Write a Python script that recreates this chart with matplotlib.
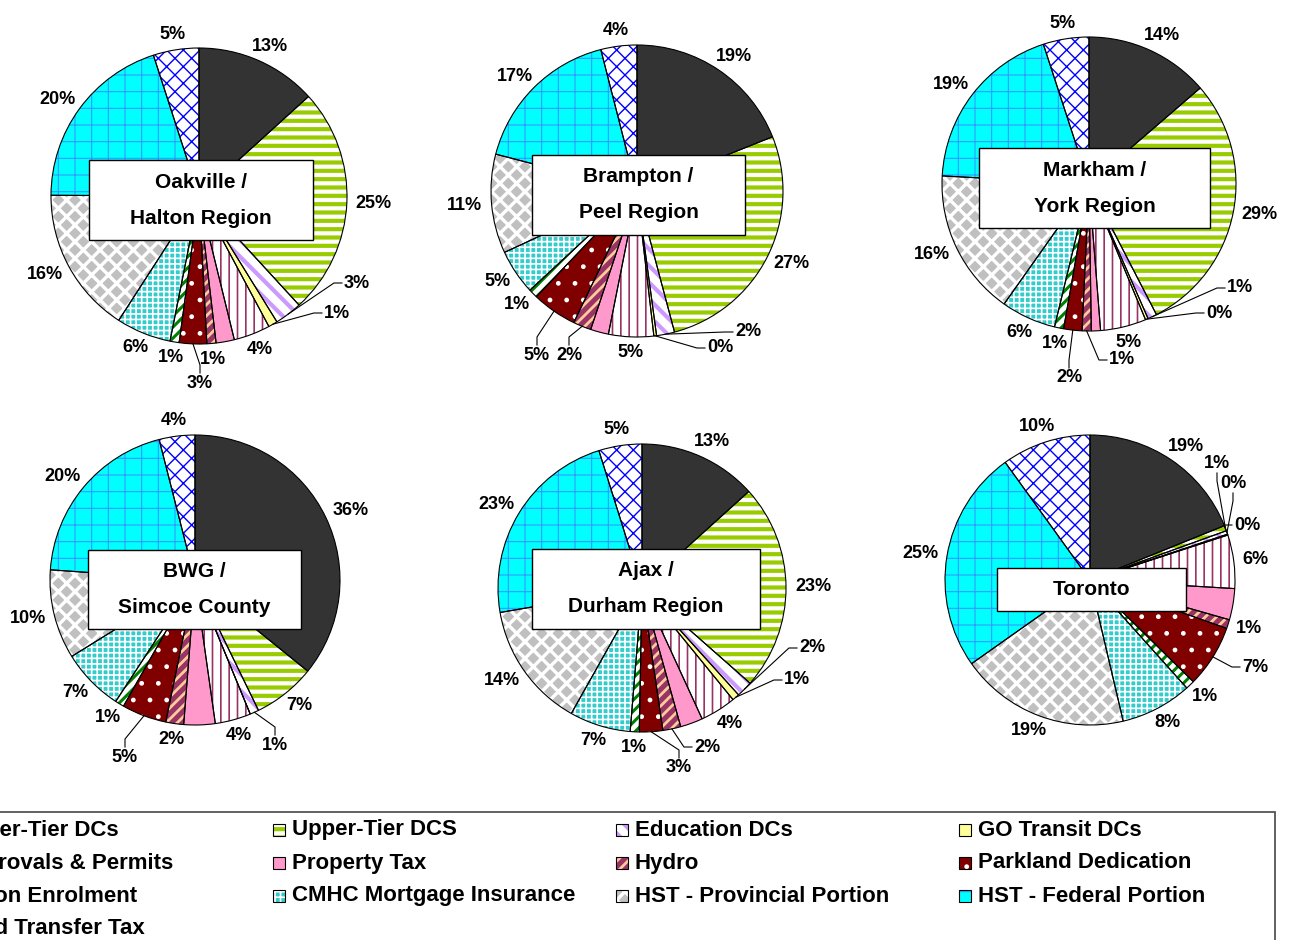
import numpy as np
import matplotlib.pyplot as plt
from matplotlib.patches import Rectangle

plt.rcParams['font.family'] = ['Liberation Sans', 'DejaVu Sans']
plt.rcParams['font.weight'] = 'bold'

# categories, clockwise from 12 o'clock
categories = ['Lower-Tier DCs', 'Upper-Tier DCS', 'Education DCs', 'GO Transit DCs',
              'Approvals & Permits', 'Property Tax', 'Hydro', 'Parkland Dedication',
              'Tarion Enrolment', 'CMHC Mortgage Insurance', 'HST - Provincial Portion',
              'HST - Federal Portion', 'Land Transfer Tax']

titles = ['Oakville /\nHalton Region', 'Brampton /\nPeel Region', 'Markham /\nYork Region',
          'BWG /\nSimcoe County', 'Ajax /\nDurham Region', 'Toronto']

# share of each charge in %, same order as categories
oakville = [13.3, 25.0, 3.0, 1.0, 4.0, 2.0, 1.0, 3.0, 1.0, 6.0, 16.0, 20.0, 5.0]
brampton = [19.0, 27.0, 2.0, 0.3, 5.0, 2.0, 2.0, 5.0, 1.0, 5.0, 11.0, 17.0, 4.0]
markham = [13.6, 28.6, 1.0, 0.3, 5.0, 1.0, 1.0, 2.0, 1.0, 6.0, 16.0, 19.0, 5.0]
bwg = [36.0, 7.0, 1.0, 0.0, 4.0, 3.5, 2.0, 5.0, 1.0, 7.0, 10.0, 20.0, 4.0]
ajax = [13.2, 23.0, 1.8, 0.8, 4.0, 2.5, 2.0, 2.6, 1.0, 6.8, 14.0, 22.7, 4.8]
toronto = [19.0, 0.6, 0.4, 0.1, 6.0, 3.5, 1.0, 7.0, 1.0, 8.0, 19.0, 25.0, 10.0]

all_values = [oakville, brampton, markham, bwg, ajax, toronto]
no_label = ['Property Tax']

# fill style: face, hatch, hatch colour, hatch line width
styles = {
    'Lower-Tier DCs': ('#333333', None, None, 0),
    'Upper-Tier DCS': ('white', '--', '#99CC00', 3.0),
    'Education DCs': ('white', '\\\\', '#CC99FF', 3.0),
    'GO Transit DCs': ('#FFFF99', None, None, 0),
    'Approvals & Permits': ('white', '||', '#993366', 1.2),
    'Property Tax': ('#FF99CC', None, None, 0),
    'Hydro': ('#993366', '///', '#FFCC99', 2.0),
    'Parkland Dedication': ('#800000', '.', 'white', 1.0),
    'Tarion Enrolment': ('white', '///', '#008000', 2.2),
    'CMHC Mortgage Insurance': ('#33CCCC', '+++', 'white', 1.2),
    'HST - Provincial Portion': ('#C0C0C0', 'xx', 'white', 2.4),
    'HST - Federal Portion': ('#00FFFF', '+', '#3399FF', 0.8),
    'Land Transfer Tax': ('white', 'xx', '#0000FF', 1.0),
}

# layout in pixels (y measured from top)
W, H = 1290, 940
centers = [(199, 196), (637, 191), (1089, 184), (195, 580), (642, 588), (1090, 580)]
radii = [148, 146, 147, 145, 144, 145]
boxes = [(89, 160, 313, 240), (532, 155, 745, 235), (979, 148, 1210, 228),
         (88, 550, 301, 629), (532, 549, 760, 629), (997, 568, 1186, 611)]
# moved labels (offset from pie centre, px, y down) -> drawn with leader line
moved = [
    {2: (158, 87), 3: (138, 117), 7: (1, 187)},
    {2: (111, 141), 3: (83, 157), 6: (-68, 164), 7: (-100, 164)},
    {2: (151, 104), 3: (130, 129), 6: (33, 176), 7: (-20, 194)},
    {2: (80, 165), 7: (-70, 177)},
    {2: (170, 60), 3: (155, 92), 6: (65, 159), 7: (37, 180)},
    {1: (127, -117), 2: (143, -97), 3: (157, -55), 7: (165, 87)},
]

LABEL_FS = 13
FS_PX = LABEL_FS * 100 / 72


def style_patch(p, cat):
    face, hatch, hcol, hlw = styles[cat]
    p.set_facecolor(face)
    if hatch:
        p.set_edgecolor(hcol)
        p.set_hatch(hatch)
        if hasattr(p, 'set_hatch_linewidth'):
            p.set_hatch_linewidth(hlw)
    p.set_linewidth(0)


def text_width(s):
    return (0.556 * (len(s) - 1) + 0.889) * FS_PX


fig = plt.figure(figsize=(W / 100, H / 100), dpi=100)
ax = fig.add_axes([0, 0, 1, 1])

for k, vals in enumerate(all_values):
    cx, cy = centers[k]
    r = radii[k]
    c = (cx, H - cy)
    wedges, _ = ax.pie(vals, startangle=90, counterclock=False, center=c, radius=r,
                       wedgeprops=dict(linewidth=0))
    for w, cat in zip(wedges, categories):
        style_patch(w, cat)
    ax.pie(vals, startangle=90, counterclock=False, center=c, radius=r,
           wedgeprops=dict(fill=False, edgecolor='black', linewidth=0.8))

    # percentage labels
    for i, (w, v) in enumerate(zip(wedges, vals)):
        if v <= 0 or categories[i] in no_label:
            continue
        txt = f'{v:.0f}%'
        tw, th = text_width(txt), 14
        ang = np.deg2rad((w.theta1 + w.theta2) / 2)
        ux, uy = np.cos(ang), np.sin(ang)
        ex, ey = c[0] + r * ux, c[1] + r * uy
        if i in moved[k]:
            dx, dy = moved[k][i]
            lx, ly = cx + dx, H - cy - dy
            if abs(lx - ex) > abs(ly - ey):
                s = np.sign(lx - ex)
                tx, ty = lx - s * (tw / 2 + 2), ly
                mx, my = tx - s * 8, ty
            else:
                s = np.sign(ly - ey)
                tx, ty = lx, ly - s * (th / 2 + 3)
                mx, my = tx, ty - s * 8
            ax.plot([ex, mx, tx], [ey, my, ty], color='black', lw=0.8)
        else:
            gap = 9
            lx = c[0] + (r + gap) * ux + ux * tw / 2
            ly = c[1] + (r + gap) * uy + uy * th / 2
        ax.text(lx, ly, txt, ha='center', va='center', fontsize=LABEL_FS)

    # title box
    x0, y0, x1, y1 = boxes[k]
    ax.add_patch(Rectangle((x0, H - y1), x1 - x0, y1 - y0, facecolor='white',
                           edgecolor='black', lw=1.0, zorder=5))
    lines = titles[k].split('\n')
    mid = (y0 + y1) / 2
    for j, line in enumerate(lines):
        yy = mid + (j - (len(lines) - 1) / 2) * 36
        ax.text((x0 + x1) / 2, H - yy, line, ha='center', va='center',
                fontsize=15, zorder=6)

# legend (row-major, 4 columns); the frame runs past the left and bottom edges
key_x = [-64, 273, 616, 959]
row_y = [830, 863, 896, 929]
ax.add_patch(Rectangle((-20, -20), 1275 + 20, H - 812 + 20, facecolor='white',
                       edgecolor='#555555', lw=1.3, zorder=1))
for i, cat in enumerate(categories):
    row, col = divmod(i, 4)
    kx, ky = key_x[col], row_y[row]
    key = Rectangle((kx, H - ky - 6), 12, 12, zorder=3)
    style_patch(key, cat)
    ax.add_patch(key)
    ax.add_patch(Rectangle((kx, H - ky - 6), 12, 12, fill=False, edgecolor='black',
                           lw=0.8, zorder=4))
    ax.text(kx + 19, H - ky, cat, ha='left', va='center', fontsize=16, zorder=4)

ax.set_xlim(0, W)
ax.set_ylim(0, H)
ax.set_axis_off()

fig.savefig('out.png', dpi=100)
